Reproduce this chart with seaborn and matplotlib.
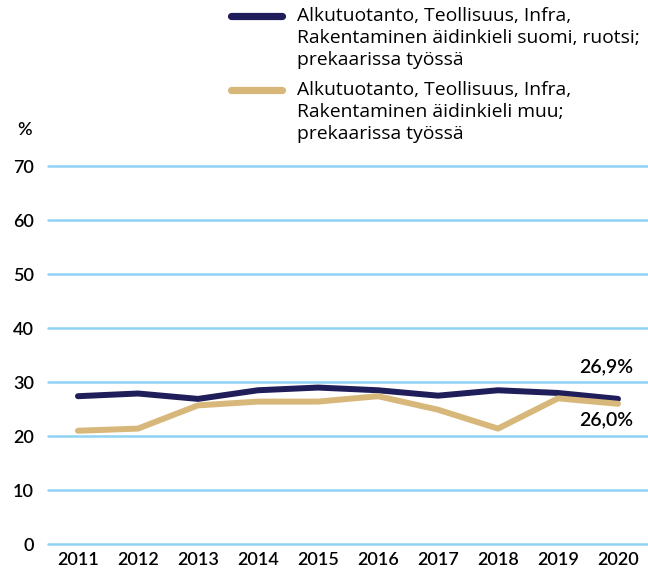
import pandas as pd
import seaborn as sns
import matplotlib.pyplot as plt

# data
years = [2011, 2012, 2013, 2014, 2015, 2016, 2017, 2018, 2019, 2020]
suomi_ruotsi = [27.4, 27.9, 26.9, 28.5, 29.0, 28.5, 27.5, 28.5, 28.0, 26.9]
muu = [21.0, 21.4, 25.7, 26.4, 26.4, 27.4, 24.9, 21.4, 27.0, 26.0]
labels = [
    "Alkutuotanto, Teollisuus, Infra,\nRakentaminen äidinkieli suomi, ruotsi;\nprekaarissa työssä",
    "Alkutuotanto, Teollisuus, Infra,\nRakentaminen äidinkieli muu;\nprekaarissa työssä",
]
end_labels = ["26,9%", "26,0%"]

df = pd.DataFrame({
    "Vuosi": years * 2,
    "Osuus": suomi_ruotsi + muu,
    "Ryhmä": [labels[0]] * len(years) + [labels[1]] * len(years),
})

sns.set_style("white")
plt.rcParams["font.family"] = ["Lato", "DejaVu Sans"]
plt.rcParams["text.color"] = "black"
plt.rcParams["xtick.color"] = "black"
plt.rcParams["ytick.color"] = "black"

W, H = 648, 571
fig = plt.figure(figsize=(W / 100, H / 100), dpi=100)
ax = fig.add_axes([0.074, 0.047, 0.926, 0.662])

palette = {labels[0]: "#1f1d5a", labels[1]: "#d8b77b"}
sns.lineplot(data=df, x="Vuosi", y="Osuus", hue="Ryhmä", palette=palette,
             linewidth=4.3, solid_capstyle="round", ax=ax, legend=False, zorder=3)

ax.set_xlim(2010.5, 2020.5)
ax.set_ylim(0, 70)
ax.set_yticks(range(0, 71, 10))
ax.set_xticks(years)
ax.set_xlabel("")
ax.set_ylabel("")
for s in ax.spines.values():
    s.set_visible(False)
ax.grid(axis="y", color="#8fd2f4", linewidth=1.8)
ax.grid(axis="x", visible=False)
for gl in ax.get_ygridlines():
    gl.set_clip_on(False)
ax.tick_params(axis="both", length=0, labelsize=13)
ax.tick_params(axis="y", pad=10)
ax.tick_params(axis="x", pad=6)
for t in ax.get_xticklabels() + ax.get_yticklabels():
    t.set_fontweight("semibold")

fig.text(25 / W, 1 - 130 / H, "%", fontsize=13, fontweight="semibold",
         ha="center", va="center")

ax.text(2019.8, suomi_ruotsi[-1] + 5.9, end_labels[0], fontsize=14,
        fontweight="semibold", ha="center", va="center")
ax.text(2019.8, muu[-1] - 3.0, end_labels[1], fontsize=14,
        fontweight="semibold", ha="center", va="center")

# legend drawn by hand: handle sits on the first text line
for i, lab in enumerate(labels):
    y0 = 16 + i * 74
    fig.add_artist(plt.Line2D([231 / W, 282 / W], [1 - y0 / H, 1 - y0 / H],
                              color=palette[lab], linewidth=5.2,
                              solid_capstyle="round"))
    fig.text(297 / W, 1 - (y0 - 9) / H, lab, fontsize=13.9, family="Open Sans",
             ha="left", va="top", linespacing=1.3)

plt.savefig("out.png", dpi=100)
